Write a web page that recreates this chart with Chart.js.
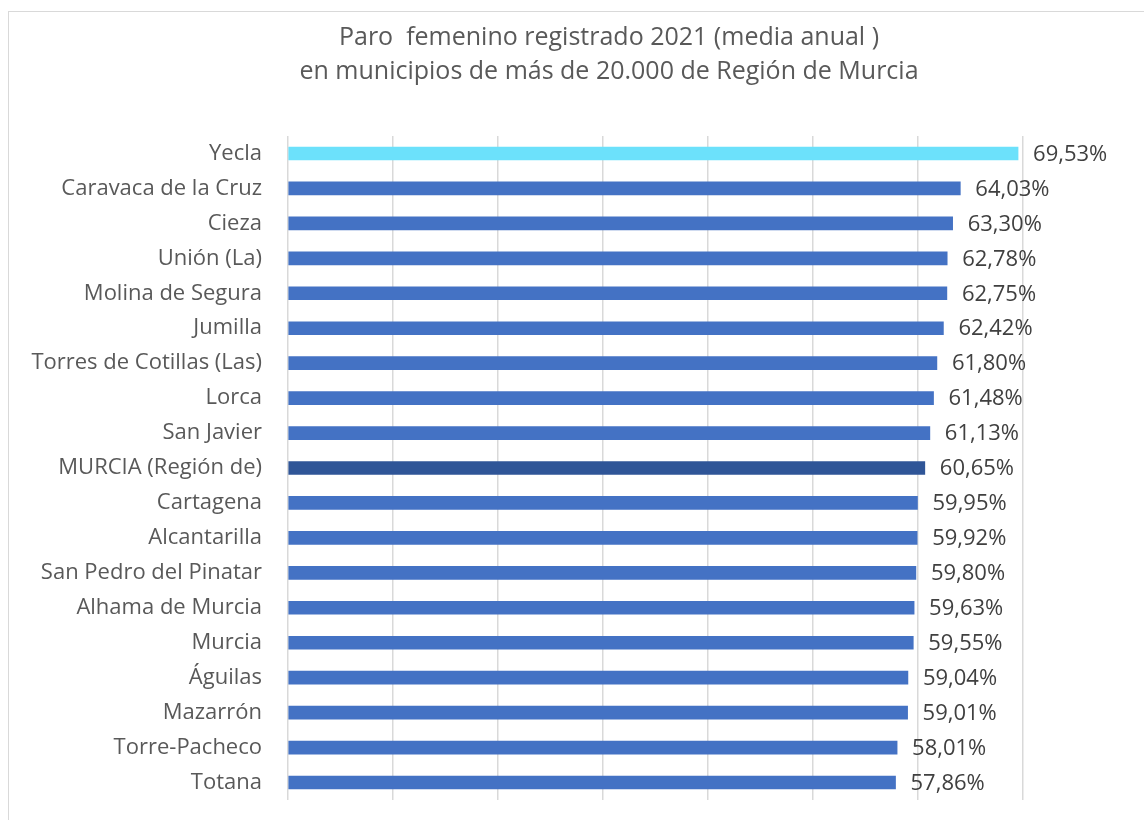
<!DOCTYPE html>
<html>
<head>
<meta charset="utf-8">
<script src="https://cdn.jsdelivr.net/npm/chart.js@4.4.1/dist/chart.umd.min.js"></script>
<style>
    body{
        margin:0;
        background:#ffffff;
    }
    #frame{
        position:absolute;
        left:8px;
        top:11px;
        width:1200px;
        height:900px;
        border-top:1px solid #d9d9d9;
        border-left:1px solid #d9d9d9;
    }
    #wrap{
        position:absolute;
        left:0;
        top:0;
        width:1144px;
        height:820px;
    }
</style>
</head>
<body>
<div id="frame"></div>
<div id="wrap">
    <canvas id="barChart"></canvas>
</div>
<script>
/*
=================================
DATA
=================================
*/

const municipios = [
    "Yecla",
    "Caravaca de la Cruz",
    "Cieza",
    "Unión (La)",
    "Molina de Segura",
    "Jumilla",
    "Torres de Cotillas (Las)",
    "Lorca",
    "San Javier",
    "MURCIA (Región de)",
    "Cartagena",
    "Alcantarilla",
    "San Pedro del Pinatar",
    "Alhama de Murcia",
    "Murcia",
    "Águilas",
    "Mazarrón",
    "Torre-Pacheco",
    "Totana"
];

const paroFemenino = [
    69.53, 64.03, 63.30, 62.78, 62.75, 62.42, 61.80, 61.48, 61.13,
    60.65, 59.95, 59.92, 59.80, 59.63, 59.55, 59.04, 59.01, 58.01, 57.86
];

const titleLines = [
    "Paro  femenino registrado 2021 (media anual )",
    "en municipios de más de 20.000 de Región de Murcia"
];

/*
=================================
COLOURS
=================================
*/

const barColors =
    municipios.map(name => {

        if(name === "Yecla") return "#6ce1fb";

        if(name === "MURCIA (Región de)") return "#2f5597";

        return "#4472c4";
    });

function formatPct(v){

    return v.toFixed(2).replace(".", ",") + "%";
}

/*
=================================
TITLE + DATA LABELS PLUGIN
=================================
*/

const valueLabels = {

    id:"valueLabels",

    afterDatasetsDraw(chart){

        const ctx = chart.ctx;
        const meta = chart.getDatasetMeta(0);

        ctx.save();

        // title, two lines
        ctx.font = "25px 'Open Sans'";
        ctx.fillStyle = "#595959";
        ctx.textAlign = "center";
        ctx.textBaseline = "middle";

        titleLines.forEach((line, i) => {
            ctx.fillText(line, 609, 38 + i * 34);
        });

        // values at bar ends
        ctx.font = "22px 'Open Sans'";
        ctx.fillStyle = "#404040";
        ctx.textAlign = "left";

        meta.data.forEach((bar, i) => {

            ctx.fillText(
                formatPct(paroFemenino[i]),
                bar.x + 15,
                bar.y + 1
            );
        });

        ctx.restore();
    }
};

/*
=================================
CHART
=================================
*/

new Chart(
    document.getElementById("barChart"),
    {
        type:"bar",

        data:{
            labels:municipios,
            datasets:[{
                data:paroFemenino,
                backgroundColor:barColors,
                barThickness:13
            }]
        },

        plugins:[valueLabels],

        options:{
            indexAxis:"y",
            responsive:true,
            maintainAspectRatio:false,
            animation:false,

            layout:{
                padding:{ top:136, left:0, right:121, bottom:20 }
            },

            plugins:{
                legend:{ display:false },
                tooltip:{ enabled:false },
                title:{ display:false }
            },

            scales:{
                x:{
                    min:0,
                    max:70,
                    ticks:{ display:false, stepSize:10 },
                    grid:{ color:"#d9d9d9", lineWidth:1.5, drawTicks:false },
                    border:{ display:false }
                },
                y:{
                    grid:{ display:false, drawTicks:false },
                    border:{ display:false },
                    ticks:{
                        color:"#595959",
                        padding:26,
                        font:{ family:"'Open Sans'", size:22 }
                    },
                    afterFit(scale){
                        scale.width = 288;
                        scale.paddingTop = 0;
                        scale.paddingBottom = 0;
                    }
                }
            }
        }
    }
);
</script>
</body>
</html>
